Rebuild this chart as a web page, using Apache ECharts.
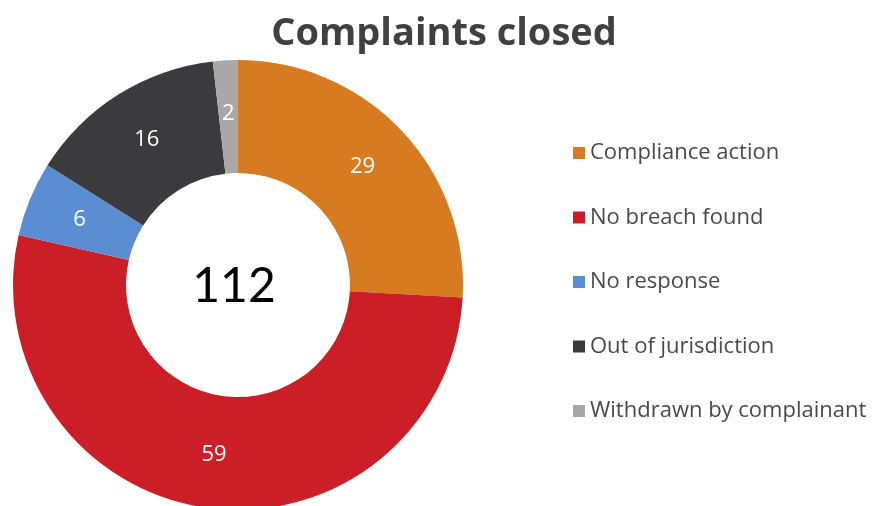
<!DOCTYPE html>
<html><head><meta charset="utf-8">
<script src="https://cdn.jsdelivr.net/npm/echarts@6/dist/echarts.min.js"></script>
<style>html,body{margin:0;padding:0;background:#fff}#c{width:877px;height:506px}</style>
</head><body><div id="c"></div>
<script>
const categories = ['Compliance action','No breach found','No response','Out of jurisdiction','Withdrawn by complainant'];
const values = [29, 59, 6, 16, 2];
const colors = ['#D67B1F','#CC1E26','#5B8DD3','#3B3B3D','#A8A8A8'];
const titleText = 'Complaints closed';
const total = values.reduce((a,b)=>a+b,0);
const FONT = 'Open Sans';
const chart = echarts.init(document.getElementById('c'), null, {renderer:'canvas'});
chart.setOption({
  animation:false,
  backgroundColor:'#fff',
  title:[
    {text:titleText, left:439, top:10, textAlign:'center',
     textStyle:{fontFamily:FONT, fontWeight:'bold', fontSize:38, color:'#404040'}},
    {text:String(total), left:229, top:258, textAlign:'center',
     textStyle:{fontFamily:'Lato', fontWeight:'normal', fontSize:48, color:'#000'}}
  ],
  legend:{
    orient:'vertical', left:568, top:136,
    itemWidth:12, itemHeight:12, itemGap:40.5, icon:'rect',
    data:categories,
    textStyle:{fontFamily:FONT, fontSize:22, color:'#4a4a4a', lineHeight:24, padding:[0,0,0,0]}
  },
  series:[{
    type:'pie', center:[238,285], radius:[112,225], startAngle:90, clockwise:true,
    avoidLabelOverlap:false,
    label:{show:true, position:'inside', formatter:'{c}', color:'#fff', fontFamily:FONT, fontSize:22, padding:[8,0,0,0]},
    labelLine:{show:false},
    itemStyle:{borderWidth:0},
    emphasis:{disabled:true},
    data:categories.map((n,i)=>({name:n, value:values[i], itemStyle:{color:colors[i]}}))
  }]
});
</script></body></html>
